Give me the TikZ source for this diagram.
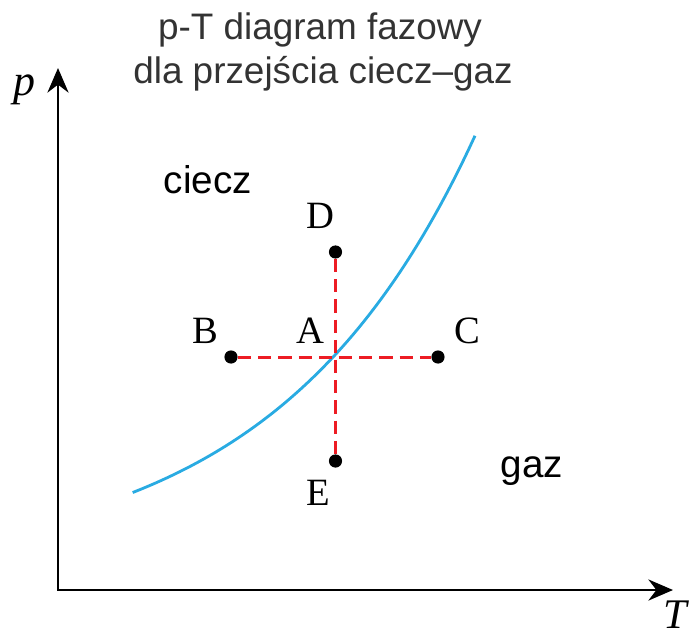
\documentclass[tikz,border=0pt]{standalone}
\usepackage{fontspec}
\setmainfont{Liberation Serif}
\newfontfamily\sansfont{Liberation Sans}
\usetikzlibrary{arrows.meta,positioning}
\definecolor{mCurve}{RGB}{41,171,226}
\definecolor{mTitle}{RGB}{51,51,51}
\definecolor{mDash}{RGB}{237,28,36}
\tikzset{
  axis/.style={line width=1.5pt, >={Stealth[length=14pt, width=12pt]}},
  dot/.style={circle, fill=black, inner sep=0pt, minimum size=7.5pt},
  letter/.style={anchor=base, font=\fontsize{22}{26}\selectfont},
  region/.style={anchor=base, font=\sansfont\fontsize{22}{26}\selectfont},
  heading/.style={anchor=base, text=mTitle, font=\sansfont\fontsize{21}{25}\selectfont},
  trans/.style={mDash, line width=1.7pt, dash pattern=on 7.5pt off 4pt},
}

\begin{document}
\begin{tikzpicture}[x=0.02cm, y=-0.02cm]
    \useasboundingbox (0,0) rectangle (696,637);
    % title
    \node[heading] (t1) at (320,39) {p-T diagram fazowy};
    \node[heading] (t2) at (323,83) {dla przejścia ciecz–gaz};
    % axes
    \coordinate (ptip) at (58,68);
    \coordinate (Ttip) at (673,590);
    \draw[axis, <->] (ptip) |- (Ttip);
    \node[letter, font=\fontsize{25}{28}\selectfont\itshape] (plab) at (24,95) {p};
    \node[letter, font=\fontsize{24}{28}\selectfont\itshape] (Tlab) at (675,628) {T};
    % coexistence curve
    \draw[mCurve, line width=1.6pt] plot[domain=132.7:475, samples=60, variable=\t]
      (\t, {590 - 19 - 216*exp(0.005*(\t-335))});
    % states
    \coordinate (A) at (335.5,357);
    \node[dot] (B) at (231,357) {};
    \node[dot] (C) at (438,357) {};
    \node[dot] (D) at (335.5,252) {};
    \node[dot] (E) at (335.5,461) {};
    \draw[trans] (B) -- (C);
    \draw[trans] (D) -- (E);
    \node[letter] (labA) at (310,343) {A};
    \node[letter] (labB) at (205,343) {B};
    \node[letter] (labC) at (467,343) {C};
    \node[letter] (labD) at (320,228) {D};
    \node[letter] (labE) at (318,505) {E};
    % phases
    \node[region] (liq) at (208,193) {ciecz};
    \node[region] (gas) at (532,477) {gaz};
\end{tikzpicture}
\end{document}
